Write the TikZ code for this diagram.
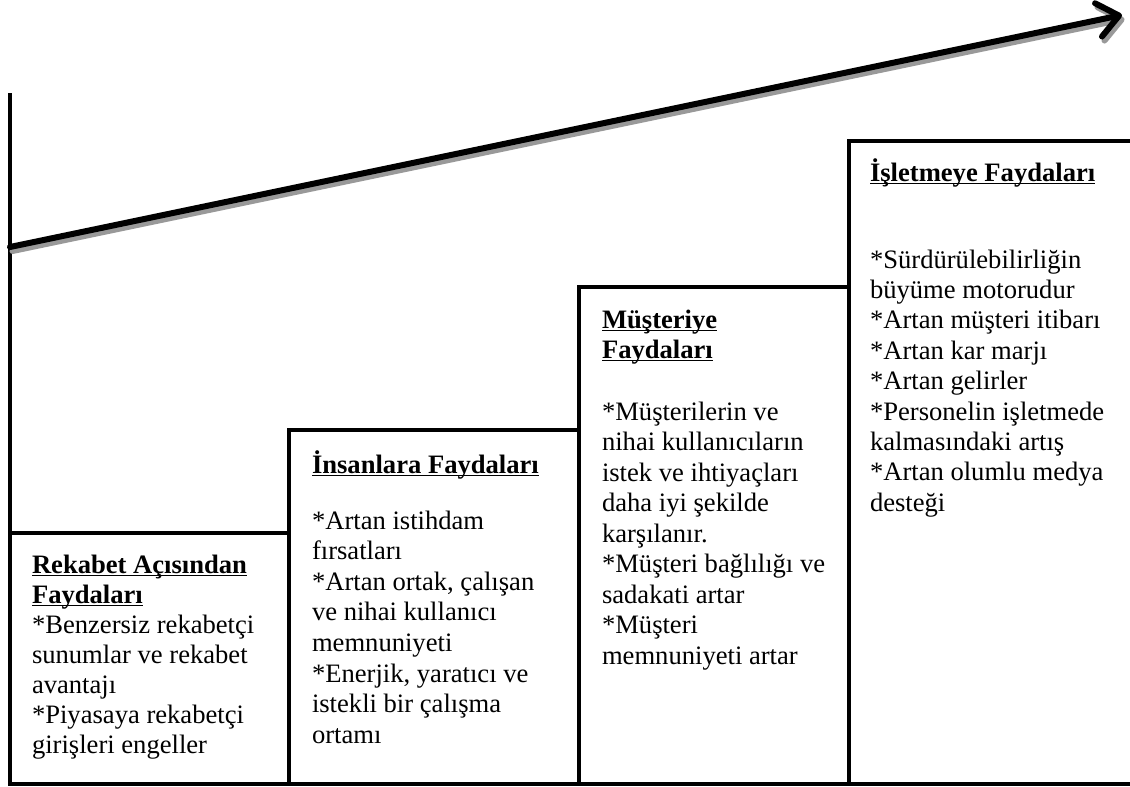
\documentclass[tikz,border=0pt]{standalone}
\usepackage{fontspec}
\setmainfont{Liberation Serif}
\usetikzlibrary{arrows.meta}
% bold heading with a Word-style underline that cuts through descenders
\newcommand\ulhead[1]{\setbox0\hbox{\bfseries #1}\rlap{\rule[-3.4pt]{\wd0}{1.9pt}}\box0}
\begin{document}
\begin{tikzpicture}[x=1pt,y=-1pt,
  stepbox/.style={draw=black,fill=white,line width=4.8pt,rectangle,inner sep=0pt,outer sep=0pt,anchor=north west},
  txt/.style={anchor=base west,inner sep=0pt,outer sep=0pt,font=\fontsize{26.6}{30.6}\selectfont},
  axis/.style={draw=black,line width=4pt},
  trend/.style={line width=6pt,line cap=round,-{Straight Barb[length=21pt,width=34pt,line cap=round,line join=round]}},
  shade/.style={draw=black!40}]
\useasboundingbox (0,0) rectangle (1130,787);
\fill[white] (0,0) rectangle (1130,787);

% the four steps
\node[stepbox,minimum width=279pt,minimum height=251pt] (b1) at (10,533) {};
\node[stepbox,minimum width=290pt,minimum height=354pt] (b2) at (289,430) {};
\node[stepbox,minimum width=270pt,minimum height=497pt] (b3) at (579,287) {};
\node[stepbox,minimum width=300pt,minimum height=643pt] (b4) at (849,141) {};

% vertical axis
\coordinate (axtop) at (10,93);
\draw[axis] (axtop) -- (b1.north west);

% rising trend arrow with its grey shadow
\coordinate (ts) at (10,247);
\coordinate (te) at (1122,15);
\draw[trend,shade] ([shift={(2.5,4)}]ts) -- ([shift={(2.5,4)}]te);
\draw[trend,draw=black] (ts) -- (te);

% step 1
\node[txt] (h1a) at (32,573) {\ulhead{Rekabet Açısından}};
\node[txt] (h1b) at (32,603) {\ulhead{Faydaları}};
\foreach \s [count=\i from 0] in {*Benzersiz rekabetçi,sunumlar ve rekabet,avantajı,*Piyasaya rekabetçi,girişleri engeller}
  \node[txt] (t1-\i) at (32,{633+30*\i}) {\s};

% step 2
\node[txt] (h2) at (312,473) {\ulhead{İnsanlara Faydaları}};
\foreach \s [count=\i from 0] in {*Artan istihdam,fırsatları,{*Artan ortak, çalışan},ve nihai kullanıcı,memnuniyeti,{*Enerjik, yaratıcı ve},istekli bir çalışma,ortamı}
  \node[txt] (t2-\i) at (312,{529+30.6*\i}) {\s};

% step 3
\node[txt] (h3a) at (602,328) {\ulhead{Müşteriye}};
\node[txt] (h3b) at (602,358) {\ulhead{Faydaları}};
\foreach \s [count=\i from 0] in {*Müşterilerin ve,nihai kullanıcıların,istek ve ihtiyaçları,daha iyi şekilde,karşılanır.,*Müşteri bağlılığı ve,sadakati artar,*Müşteri,memnuniyeti artar}
  \node[txt] (t3-\i) at (602,{420+30.5*\i}) {\s};

% step 4
\node[txt] (h4) at (870,181) {\ulhead{İşletmeye Faydaları}};
\foreach \s [count=\i from 0] in {*Sürdürülebilirliğin,büyüme motorudur,*Artan müşteri itibarı,*Artan kar marjı,*Artan gelirler,*Personelin işletmede,kalmasındaki artış,*Artan olumlu medya,desteği}
  \node[txt] (t4-\i) at (870,{268+30.4*\i}) {\s};
\end{tikzpicture}
\end{document}
